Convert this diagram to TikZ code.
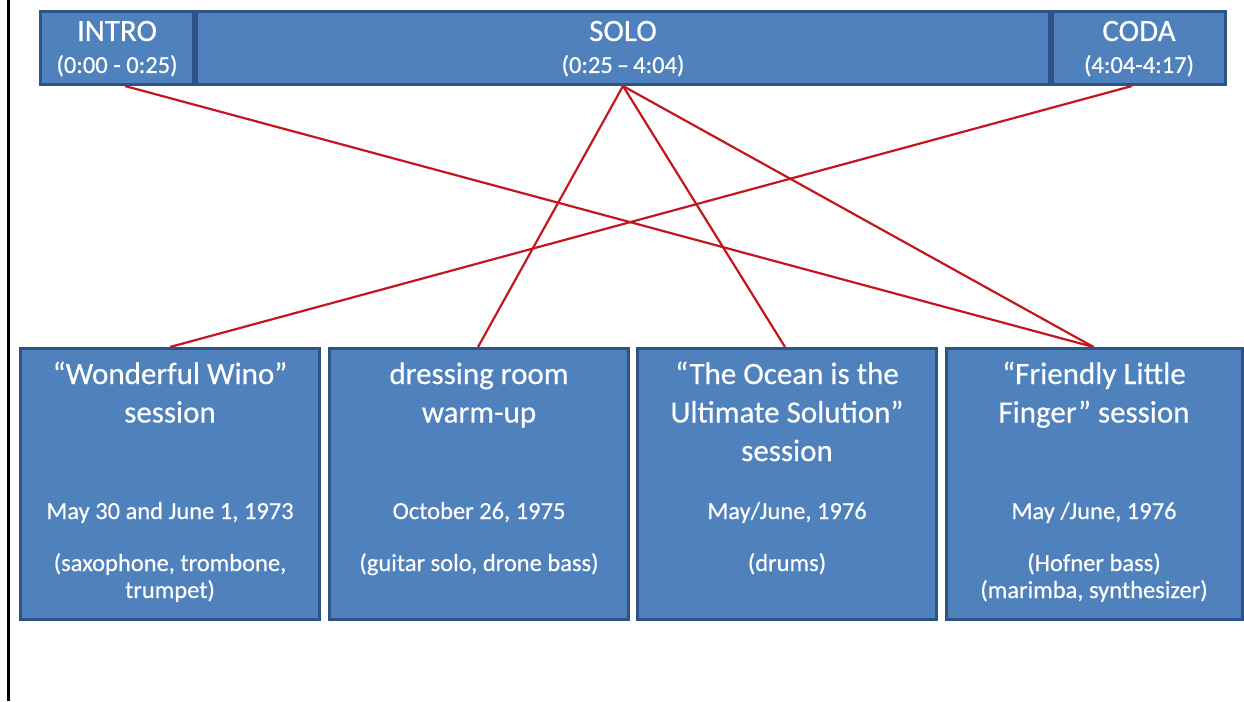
\documentclass[tikz,border=0pt]{standalone}
\usepackage{fontspec}
\setmainfont{Carlito}[FakeBold=0.4]
\definecolor{boxfill}{HTML}{4F81BD}
\definecolor{boxline}{HTML}{2E5386}
\definecolor{linkred}{HTML}{C3161F}
\tikzset{
  seg/.style={draw=boxline, line width=3pt, fill=boxfill, minimum height=73pt, inner sep=0pt},
  card/.style={draw=boxline, line width=3pt, fill=boxfill, minimum width=299pt, minimum height=271pt, inner sep=0pt},
  ttl/.style={text=white, anchor=base, inner sep=0pt, font=\fontsize{31}{36}\selectfont},
  sub/.style={text=white, anchor=base, inner sep=0pt, font=\fontsize{24.5}{29}\selectfont},
  link/.style={draw=linkred, line width=2.2pt},
}
\begin{document}
\begin{tikzpicture}[x=1pt,y=-1pt]
\useasboundingbox (0,0) rectangle (1244,701);
\fill[white] (0,0) rectangle (1244,701);
\draw[black, line width=3pt] (8.5,0) -- (8.5,701);

% top segments
\node[seg, minimum width=153pt] (intro) at (117,48) {};
\node[seg, minimum width=853pt] (solo) at (623,48) {};
\node[seg, minimum width=173pt] (coda) at (1139,48) {};

\node[ttl] (introT) at (117,41) {INTRO};
\node[sub] (introS) at (117,73) {(0:00 - 0:25)};
\node[ttl] (soloT) at (623,41) {SOLO};
\node[sub] (soloS) at (623,73) {(0:25\,--\,4:04)};
\node[ttl] (codaT) at (1139,41) {CODA};
\node[sub] (codaS) at (1139,73) {(4:04-4:17)};

% bottom cards
\node[card] (wino) at (170,484) {};
\node[card] (dress) at (479,484) {};
\node[card] (ocean) at (787,484) {};
\node[card, minimum width=296pt] (finger) at (1094.5,484) {};

\node[ttl] (w1) at (170,384) {“Wonderful Wino”};
\node[ttl] (w2) at (170,422.5) {session};
\node[sub] (w3) at (170,519) {May 30 and June 1, 1973};
\node[sub] (w4) at (170,571) {(saxophone, trombone,};
\node[sub] (w5) at (170,598) {trumpet)};

\node[ttl] (d1) at (479,384) {dressing room};
\node[ttl] (d2) at (479,422.5) {warm-up};
\node[sub] (d3) at (479,519) {October 26, 1975};
\node[sub] (d4) at (479,571) {(guitar solo, drone bass)};

\node[ttl] (o1) at (787,384) {“The Ocean is the};
\node[ttl] (o2) at (787,422.5) {Ultimate Solution”};
\node[ttl] (o3) at (787,461) {session};
\node[sub] (o4) at (787,519) {May/June, 1976};
\node[sub] (o5) at (787,571) {(drums)};

\node[ttl] (f1) at (1094,384) {“Friendly Little};
\node[ttl] (f2) at (1094,422.5) {Finger” session};
\node[sub] (f3) at (1094,519) {May /June, 1976};
\node[sub] (f4) at (1094,571) {(Hofner bass)};
\node[sub] (f5) at (1094,598) {(marimba, synthesizer)};

% connectors
\draw[link] ([xshift=8pt]intro.south) -- ([xshift=-1pt]finger.north);
\draw[link] (solo.south) -- ([xshift=-1pt]dress.north);
\draw[link] (solo.south) -- ([xshift=-2pt]ocean.north);
\draw[link] (solo.south) -- ([xshift=-1pt]finger.north);
\draw[link] ([xshift=-7pt]coda.south) -- (wino.north);
\end{tikzpicture}
\end{document}
